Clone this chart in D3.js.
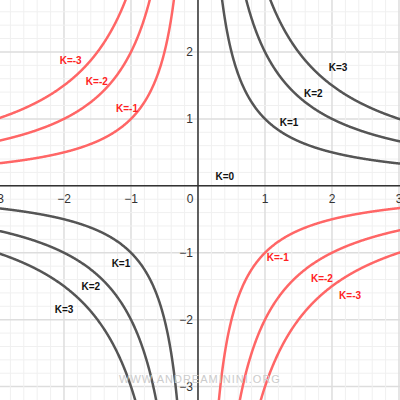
<!DOCTYPE html>
<html><head><meta charset="utf-8">
<script src="https://cdn.jsdelivr.net/npm/d3@7"></script>
<style>body{margin:0;background:#fff}svg{display:block}</style>
</head><body>
<svg id="c" width="400" height="400"></svg>
<script>
const K_VALUES = [1, 2, 3, -1, -2, -3];
const X_TICKS = [-3, -2, -1, 1, 2, 3];
const Y_TICKS = [-3, -2, -1, 1, 2];
// label positions in data units
const LABELS = [
  {t:"K=3", x:2.09, y:1.78, k:3}, {t:"K=2", x:1.72, y:1.39, k:2}, {t:"K=1", x:1.36, y:0.96, k:1},
  {t:"K=0", x:0.4, y:0.15, k:0},
  {t:"K=-3", x:-1.9, y:1.88, k:-3}, {t:"K=-2", x:-1.51, y:1.57, k:-2}, {t:"K=-1", x:-1.06, y:1.16, k:-1},
  {t:"K=1", x:-1.15, y:-1.16, k:1}, {t:"K=2", x:-1.6, y:-1.5, k:2}, {t:"K=3", x:-2.0, y:-1.84, k:3},
  {t:"K=-1", x:1.19, y:-1.06, k:-1}, {t:"K=-2", x:1.85, y:-1.37, k:-2}, {t:"K=-3", x:2.27, y:-1.63, k:-3}
];

const svg = d3.select("#c");
const x = d3.scaleLinear().domain([-2.955, 3.015]).range([0, 400]);
const y = d3.scaleLinear().domain([-3.2, 2.776]).range([400, 0]);

// grid
const g = svg.append("g");
d3.range(-15, 16).forEach(i => {
  const v = i / 5, major = i % 5 === 0;
  g.append("line").attr("x1", x(v)).attr("x2", x(v)).attr("y1", 0).attr("y2", 400)
    .attr("stroke", major ? "#ddd" : "#f0f0f0").attr("stroke-width", major ? 1.5 : 1);
  g.append("line").attr("y1", y(v)).attr("y2", y(v)).attr("x1", 0).attr("x2", 400)
    .attr("stroke", major ? "#ddd" : "#f0f0f0").attr("stroke-width", major ? 1.5 : 1);
});

// axes
svg.append("line").attr("x1", 0).attr("x2", 400).attr("y1", y(0)).attr("y2", y(0)).attr("stroke", "#333").attr("stroke-width", 1.5);
svg.append("line").attr("x1", x(0)).attr("x2", x(0)).attr("y1", 0).attr("y2", 400).attr("stroke", "#333").attr("stroke-width", 1.5);

const lab = svg.append("g").attr("font-family", "Arial, Liberation Sans, sans-serif").attr("font-size", 12).attr("fill", "#333");
X_TICKS.forEach(v => lab.append("text").attr("x", x(v)).attr("y", y(0) + 17).attr("text-anchor", "middle").text(v < 0 ? "\u2212" + (-v) : v));
lab.append("text").attr("x", x(0) - 8).attr("y", y(0) + 17).attr("text-anchor", "middle").text("0");
Y_TICKS.forEach(v => lab.append("text").attr("x", x(0) - 5).attr("y", y(v) + 4).attr("text-anchor", "end").text(v < 0 ? "\u2212" + (-v) : v));

// curves y = k/x
const line = d3.line().x(d => x(d[0])).y(d => y(d[1]));
const curves = svg.append("g").attr("fill", "none").attr("stroke-width", 2.5);
K_VALUES.forEach(k => {
  const col = k > 0 ? "#555" : "#ff6666";
  [[-3.1, -0.01], [0.01, 3.1]].forEach(([a, b]) => {
    const pts = d3.range(0, 601).map(i => {
      const xv = a + (b - a) * i / 600;
      return [xv, k / xv];
    }).filter(p => p[1] > -4 && p[1] < 4);
    curves.append("path").attr("d", line(pts)).attr("stroke", col);
  });
});

// K labels
svg.append("g").attr("font-family", "Arial, Liberation Sans, sans-serif").attr("font-size", 10).attr("font-weight", "bold")
  .selectAll("text").data(LABELS).join("text")
  .attr("x", d => x(d.x)).attr("y", d => y(d.y) + 4).attr("text-anchor", "middle")
  .attr("fill", d => d.k < 0 ? "#ff2222" : "#111").text(d => d.t);

svg.append("text").attr("x", 200).attr("y", 383).attr("text-anchor", "middle")
  .attr("font-family", "Arial, sans-serif").attr("font-size", 11).attr("fill", "#ccc")
  .attr("letter-spacing", 1).text("WWW.ANDREAMININI.ORG");
</script>
</body></html>
